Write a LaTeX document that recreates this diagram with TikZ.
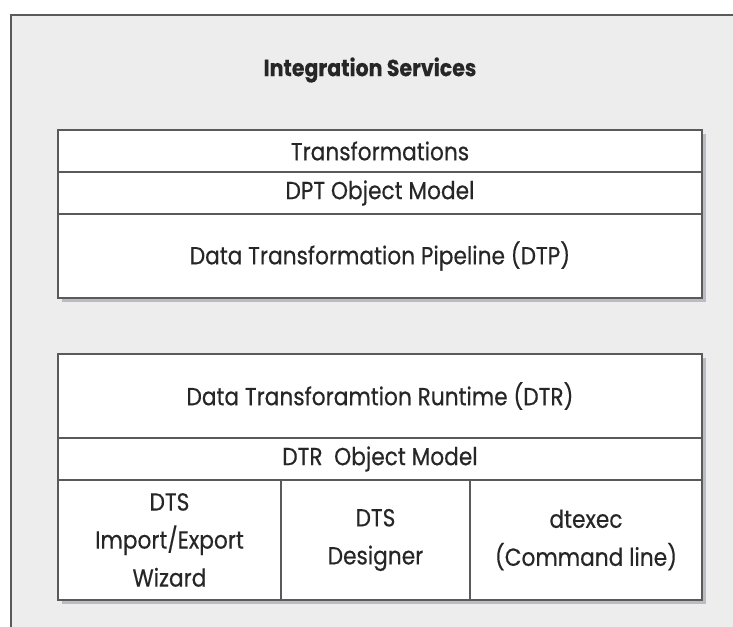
\documentclass[tikz,border=0pt]{standalone}
\usepackage{fontspec}
\setmainfont{Poppins}[FakeStretch=0.88, FakeBold=0.4]
\usetikzlibrary{positioning,backgrounds}

\definecolor{panelgray}{HTML}{EDEDED}
\definecolor{linegray}{HTML}{5A5A5A}
\definecolor{inkgray}{HTML}{262626}
\definecolor{shadowgray}{HTML}{B9BDC2}

\begin{document}
\begin{tikzpicture}[
  x=0.75pt, y=-0.75pt, text=inkgray,
  font=\fontsize{18.5}{28.5}\selectfont,
  cell/.style={draw=linegray, line width=1pt, fill=white, align=center,
    inner sep=0pt, outer sep=0pt, anchor=north west},
  row/.style={cell, minimum width=483pt, minimum height=31.5pt},
  tallrow/.style={row, minimum height=63pt},
  tool/.style={cell, minimum height=90pt}
]
  \useasboundingbox (0,0) rectangle (733,627);

  \node[font=\bfseries\fontsize{17.5}{20}\selectfont] (title) at (370,70) {Integration Services};

  % pipeline stack
  \node[row] (trans) at (58,130) {Transformations};
  \node[row] (dptom) at (trans.south west) {DPT Object Model};
  \node[tallrow] (dtp) at (dptom.south west) {Data Transformation Pipeline (DTP)};

  % runtime stack
  \node[tallrow] (dtr) at (58,354) {Data Transforamtion Runtime (DTR)};
  \node[row] (dtrom) at (dtr.south west) {DTR\ \ Object Model};
  \node[tool, minimum width=167.25pt] (wizard) at (dtrom.south west) {DTS\\ Import/Export\\ Wizard};
  \node[tool, minimum width=141.75pt] (designer) at (wizard.north east) {DTS\\ Designer};
  \node[tool, minimum width=174pt] (dtexec) at (designer.north east) {dtexec\\ (Command line)};

  \begin{scope}[on background layer]
    \fill[panelgray] (11,15) rectangle (733,627);
    \draw[linegray, line width=1pt] (11,627) -- (11,15) -- (733,15);
    \fill[shadowgray] ([shift={(4,4)}]trans.north west) rectangle ([shift={(4,4)}]dtp.south east);
    \fill[shadowgray] ([shift={(4,4)}]dtr.north west) rectangle ([shift={(4,4)}]dtexec.south east);
  \end{scope}
\end{tikzpicture}
\end{document}
